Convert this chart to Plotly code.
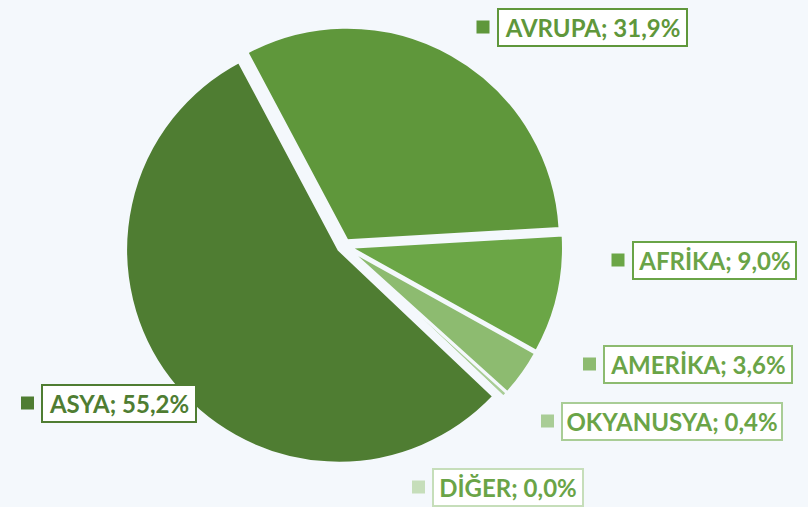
import plotly.graph_objects as go

W, H = 808, 507

# ---- data ----
labels = ["AVRUPA", "AFRİKA", "AMERİKA", "OKYANUSYA", "DİĞER", "ASYA"]
values = [31.9, 9.0, 3.6, 0.4, 0.0, 55.2]

# ---- styles ----
slice_colors = ["#5F973B", "#6BA646", "#8DBB70", "#A9CD96", "#C6DEBA", "#4F7D32"]
text_colors = ["#5F973B", "#6AA447", "#6AA447", "#6AA447", "#6AA447", "#4F7D32"]
border_colors = ["#5F973B", "#6AA447", "#8DBB70", "#A9CD96", "#C6DEBA", "#4F7D32"]
BG = "#F4F8FC"

# label box layout (pixel centre x, centre y, width)
box_layout = [(592, 27, 191), (714, 260, 165), (698, 364, 190),
              (672, 421, 222), (508, 487, 152), (119, 403, 156)]
BOX_H = 39
SQ = 13


def px(x):
    return x / W


def py(y):
    return 1 - y / H


# pie geometry (pixels)
cx, cy, r, pull = 344, 246, 213, 0.03
half = r * (1 + pull)

fig = go.Figure(go.Pie(
    labels=labels,
    values=values,
    sort=False,
    direction="clockwise",
    rotation=-28,
    pull=[pull] * len(labels),
    marker=dict(colors=slice_colors, line=dict(color=BG, width=2.5)),
    textinfo="none",
    hoverinfo="label+percent",
    showlegend=False,
    domain=dict(x=[px(cx - half), px(cx + half)],
                y=[py(cy + half), py(cy - half)]),
))

annotations = []
shapes = []
for lab, val, tc, bc, sc, (bx, by, bw) in zip(labels, values, text_colors,
                                               border_colors, slice_colors, box_layout):
    txt = f"{lab}; {val:.1f}%".replace(".", ",")
    annotations.append(dict(
        x=px(bx), y=py(by), xref="paper", yref="paper",
        xanchor="center", yanchor="middle", showarrow=False,
        text=f"<b>{txt}</b>",
        font=dict(family="Lato", size=24, color=tc),
        bgcolor="white", bordercolor=bc, borderwidth=2, borderpad=0,
        width=bw - 4, height=BOX_H - 4, align="center",
    ))
    sx = bx - bw / 2 - 7 - SQ
    shapes.append(dict(
        type="rect", xref="paper", yref="paper",
        x0=px(sx), x1=px(sx + SQ), y0=py(by - SQ / 2), y1=py(by + SQ / 2),
        fillcolor=sc, line=dict(width=0),
    ))

fig.update_layout(
    width=W, height=H,
    margin=dict(l=0, r=0, t=0, b=0),
    paper_bgcolor=BG, plot_bgcolor=BG,
    annotations=annotations, shapes=shapes,
)

fig.write_html(
    "out.html",
    config={"displayModeBar": False},
    post_script="document.body.style.margin='0';document.body.style.background='%s';" % BG,
)
